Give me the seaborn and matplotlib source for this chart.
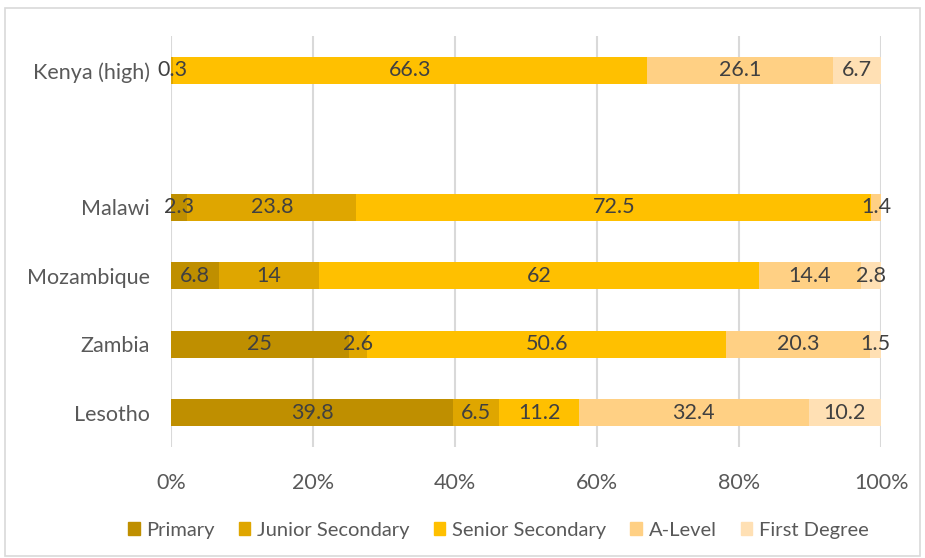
import matplotlib
matplotlib.use("Agg")
import matplotlib.pyplot as plt
import matplotlib.patches as mpatches
import numpy as np
import pandas as pd
import seaborn as sns

countries = ["Kenya (high)", " ", "Malawi", "Mozambique", "Zambia", "Lesotho"]
levels = ["Primary", "Junior Secondary", "Senior Secondary", "A-Level", "First Degree"]
primary = [0.0, 0.0, 2.3, 6.8, 25.0, 39.8]
junior = [0.3, 0.0, 23.8, 14.0, 2.6, 6.5]
senior = [66.3, 0.0, 72.5, 62.0, 50.6, 11.2]
alevel = [26.1, 0.0, 1.4, 14.4, 20.3, 32.4]
first_degree = [6.7, 0.0, 0.0, 2.8, 1.5, 10.2]
colors = ["#BF8F00", "#DFA600", "#FFC000", "#FFD084", "#FFE0B4"]

sns.set_theme(style="white")
plt.rcParams["font.family"] = ["Lato", "DejaVu Sans"]

vals = np.array([primary, junior, senior, alevel, first_degree])
totals = vals.sum(axis=0)
totals[totals == 0] = 1
pct = vals / totals * 100
cum = np.cumsum(pct, axis=0)

fig = plt.figure(figsize=(9.25, 5.58), dpi=100)
ax = fig.add_axes([0.1849, 0.1989, 0.7676, 0.7366])

# draw cumulative totals from last to first so layers stack
for i in range(len(levels) - 1, -1, -1):
    df = pd.DataFrame({"country": countries, "value": cum[i]})
    sns.barplot(data=df, x="value", y="country", order=countries, color=colors[i],
                width=0.39, ax=ax, saturation=1, linewidth=0, zorder=3)

# data labels
for i in range(len(levels)):
    left = cum[i] - pct[i]
    for j, c in enumerate(countries):
        if vals[i, j] > 0:
            v = vals[i, j]
            txt = f"{v:g}"
            ax.text(left[j] + pct[i, j] / 2, j, txt, ha="center", va="center",
                    fontsize=15.5, color="#404040", zorder=5)

ax.set_xlim(0, 100)
ax.set_ylim(5.5, -0.5)
ax.set_xticks(np.arange(0, 101, 20))
ax.set_xticklabels([f"{t}%" for t in range(0, 101, 20)])
ax.xaxis.grid(True, color="#D9D9D9", linewidth=1.5, zorder=0)
ax.yaxis.grid(False)
ax.set_axisbelow(True)
for s in ax.spines.values():
    s.set_visible(False)
ax.set_xlabel("")
ax.set_ylabel("")
ax.tick_params(axis="x", labelsize=15.5, labelcolor="#595959", length=0, pad=19)
ax.tick_params(axis="y", labelsize=15.5, labelcolor="#595959", length=0, pad=15)

handles = [mpatches.Patch(color=colors[i], label=levels[i]) for i in range(len(levels))]
fig.legend(handles=handles, loc="center", bbox_to_anchor=(0.539, 0.05), ncol=5,
           frameon=False, fontsize=14.5, handlelength=0.55, handleheight=0.55,
           handletextpad=0.35, columnspacing=1.2, labelcolor="#595959")

fig.patches.append(mpatches.Rectangle((0.005, 0.003), 0.99, 0.982, transform=fig.transFigure,
                                      fill=False, edgecolor="#D9D9D9", linewidth=1.2))

fig.savefig("out.png", dpi=100)
